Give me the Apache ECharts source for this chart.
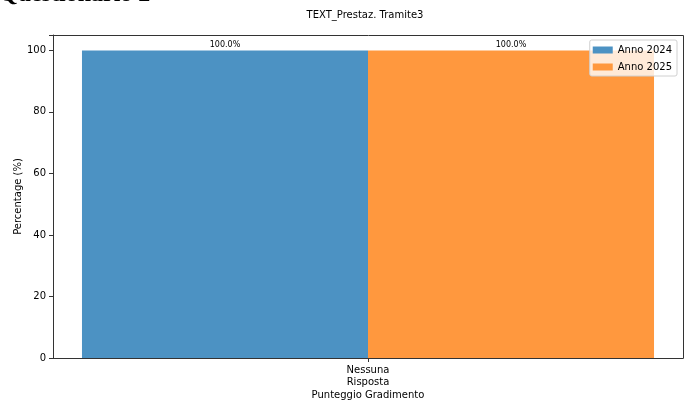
<!DOCTYPE html>
<html>
<head>
<meta charset="utf-8">
<script src="https://cdn.jsdelivr.net/npm/echarts@6/dist/echarts.min.js"></script>
<style>
  html, body { margin: 0; padding: 0; background: #fff; }
  #chart { width: 690px; height: 407px; }
</style>
</head>
<body>
<div id="chart"></div>
<script>
// Category and per-year percentages
const categories = ['Nessuna\nRisposta'];
const seriesNames = ['Anno 2024', 'Anno 2025'];
const values2024 = [100.0];
const values2025 = [100.0];
const yTicks = [0, 20, 40, 60, 80, 100];

const FONT = 'DejaVu Sans';
const colors = ['#4c92c3', '#ff983e'];

const chart = echarts.init(document.getElementById('chart'), null, { renderer: 'canvas' });

const valueLabel = {
  show: true,
  position: 'top',
  distance: 1,
  fontFamily: FONT,
  fontSize: 8,
  color: '#000',
  formatter: p => p.value.toFixed(1) + '%'
};

chart.setOption({
  animation: false,
  backgroundColor: '#fff',
  title: {
    text: 'TEXT_Prestaz. Tramite3',
    left: 360,
    top: 5,
    textAlign: 'center',
    textStyle: { fontFamily: FONT, fontSize: 10, fontWeight: 'normal', color: '#000' }
  },
  graphic: [{
    // page heading above the figure, mostly cut off by the top edge
    type: 'text',
    x: -1,
    y: -17,
    style: {
      text: 'Questionario 2',
      font: 'bold 24px "Liberation Serif"',
      fill: '#000'
    }
  }, {
    // top and right edges of the plot frame
    type: 'polyline',
    shape: { points: [[53.5, 35.5], [683.5, 35.5], [683.5, 358.5]] },
    style: { stroke: '#333', lineWidth: 1, fill: null },
    z: 10
  }],
  legend: {
    right: 13,
    top: 40,
    orient: 'vertical',
    icon: 'rect',
    itemWidth: 20,
    itemHeight: 7,
    itemGap: 7,
    padding: [5, 5, 4, 3],
    backgroundColor: 'rgba(255,255,255,0.8)',
    borderColor: '#d0d0d0',
    borderWidth: 1,
    borderRadius: 2,
    textStyle: { fontFamily: FONT, fontSize: 10, color: '#000' },
    data: seriesNames
  },
  grid: { left: 53, right: 7, top: 35, bottom: 49, containLabel: false, outerBoundsMode: 'none' },
  xAxis: {
    type: 'category',
    data: categories,
    name: 'Punteggio Gradimento',
    nameLocation: 'middle',
    nameGap: 32,
    nameMoveOverlap: false,
    nameTextStyle: { fontFamily: FONT, fontSize: 10, color: '#000' },
    axisLine: { show: true, lineStyle: { color: '#333', width: 1 } },
    axisTick: { show: true, alignWithLabel: true, length: 4, lineStyle: { color: '#333' } },
    axisLabel: { fontFamily: FONT, fontSize: 10, color: '#000', lineHeight: 12, margin: 6, align: 'center' },
    splitLine: { show: false }
  },
  yAxis: {
    type: 'value',
    min: 0,
    max: 105,
    interval: 20,
    name: 'Percentage (%)',
    nameLocation: 'middle',
    nameGap: 30,
    nameMoveOverlap: false,
    nameTextStyle: { fontFamily: FONT, fontSize: 10, color: '#000' },
    axisLine: { show: true, lineStyle: { color: '#333', width: 1 } },
    axisTick: { show: true, length: 4, lineStyle: { color: '#333' } },
    axisLabel: {
      fontFamily: FONT, fontSize: 10, color: '#000', margin: 7,
      formatter: v => (yTicks.includes(v) ? String(v) : '')
    },
    splitLine: { show: false }
  },
  series: [
    {
      name: seriesNames[0],
      type: 'bar',
      data: values2024,
      barWidth: '45.4%',
      barGap: '0%',
      itemStyle: { color: colors[0] },
      label: valueLabel
    },
    {
      name: seriesNames[1],
      type: 'bar',
      data: values2025,
      barWidth: '45.4%',
      barGap: '0%',
      itemStyle: { color: colors[1] },
      label: valueLabel
    }
  ]
});
</script>
</body>
</html>
